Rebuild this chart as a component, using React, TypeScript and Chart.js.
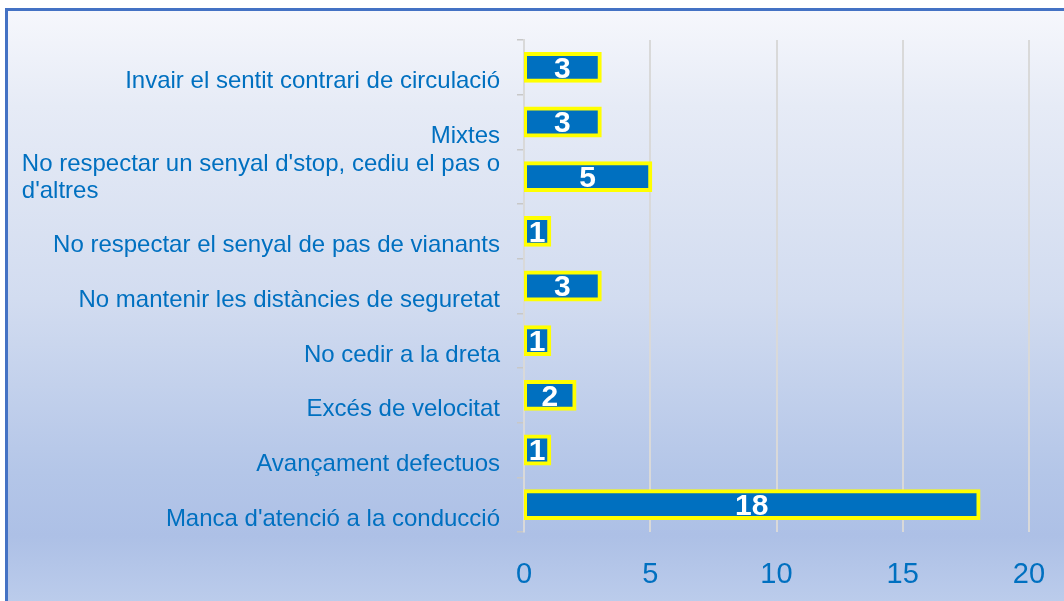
import React, { useEffect, useRef } from "react";
import { Chart, registerables } from "chart.js";

Chart.register(...registerables);

const categories: (string | string[])[] = [
  "Invair el sentit contrari de circulació",
  "Mixtes",
  ["No respectar un senyal d'stop, cediu el pas o", "d'altres"],
  "No respectar el senyal de pas de vianants",
  "No mantenir les distàncies de seguretat",
  "No cedir a la dreta",
  "Excés de velocitat",
  "Avançament defectuos",
  "Manca d'atenció a la conducció",
];
const values: number[] = [3, 3, 5, 1, 3, 1, 2, 1, 18];
const xTicks = { min: 0, max: 20, step: 5 };

const BLUE = "#0070C0";
const LABEL_FONT = "24px 'Liberation Sans', Arial, sans-serif";

const categoryLabelPlugin = {
  id: "categoryLabels",
  afterDraw(chart: any) {
    const ctx = chart.ctx;
    const yScale = chart.scales.y;
    const rightEdge = yScale.right - 24;
    ctx.save();
    ctx.font = LABEL_FONT;
    ctx.fillStyle = BLUE;
    ctx.textBaseline = "middle";
    ctx.textAlign = "left";
    categories.forEach((lab, i) => {
      const lines = Array.isArray(lab) ? lab : [lab];
      const cy = yScale.getPixelForValue(i);
      const maxW = Math.max(...lines.map((l) => ctx.measureText(l).width));
      const left = rightEdge - maxW;
      const lastY = cy + 14.5;
      lines.forEach((l, j) => {
        ctx.fillText(l, left, lastY - (lines.length - 1 - j) * 27);
      });
    });
    ctx.restore();
  },
};

const valueLabelPlugin = {
  id: "valueLabels",
  afterDatasetsDraw(chart: any) {
    const ctx = chart.ctx;
    const meta = chart.getDatasetMeta(0);
    ctx.save();
    ctx.font = "bold 30px 'Liberation Sans', Arial, sans-serif";
    ctx.fillStyle = "#FFFFFF";
    ctx.textAlign = "center";
    ctx.textBaseline = "middle";
    meta.data.forEach((bar: any, i: number) => {
      const cx = (bar.x + bar.base) / 2;
      ctx.fillText(String(values[i]), cx, bar.y + 2);
    });
    ctx.restore();
  },
};

export default function App() {
  const ref = useRef<HTMLCanvasElement>(null);
  useEffect(() => {
    if (!ref.current) return;
    const chart = new Chart(ref.current, {
      type: "bar",
      data: {
        labels: categories.map((c) => (Array.isArray(c) ? c.join(" ") : c)),
        datasets: [
          {
            data: values,
            backgroundColor: BLUE,
            borderColor: "#FFFF00",
            borderWidth: 4,
            borderSkipped: false,
            inflateAmount: 2,
            barPercentage: 0.49,
            categoryPercentage: 1,
          },
        ],
      },
      options: {
        indexAxis: "y",
        responsive: false,
        animation: false,
        layout: { padding: { top: 40, right: 35, left: 0, bottom: 0 } },
        plugins: { legend: { display: false }, tooltip: { enabled: false } },
        scales: {
          x: {
            min: xTicks.min,
            max: xTicks.max,
            ticks: {
              stepSize: xTicks.step,
              color: BLUE,
              font: { size: 29, family: "'Liberation Sans', Arial, sans-serif" },
              padding: 26,
            },
            grid: { color: "#D9D9D9", lineWidth: 2, drawTicks: false },
            border: { display: false },
            afterFit: (s: any) => {
              s.height = 69;
              s.paddingRight = 0;
              s.paddingLeft = 0;
            },
          },
          y: {
            ticks: { display: false },
            grid: {
              drawOnChartArea: false,
              drawTicks: true,
              tickLength: 7,
              color: "#C8C8C8",
              lineWidth: 1.5,
              offset: true,
            },
            border: { display: true, color: "#D9D9D9", width: 2 },
            afterFit: (s: any) => {
              s.width = 524;
              s.paddingTop = 0;
              s.paddingBottom = 0;
            },
          },
        },
      },
      plugins: [categoryLabelPlugin, valueLabelPlugin],
    });
    return () => chart.destroy();
  }, []);

  return (
    <div>
      <div
        style={{
          position: "absolute",
          left: 5,
          top: 8,
          width: 1100,
          height: 640,
          border: "3px solid #4472C4",
          background:
            "linear-gradient(to bottom, #F6F7FC 0%, #E6EBF6 15%, #D2DCF0 45%, #B4C6E8 72%, #ADC0E6 82%, #C6D5EF 100%)",
        }}
      />
      <canvas
        ref={ref}
        width={1064}
        height={601}
        style={{ position: "absolute", left: 0, top: 0, width: 1064, height: 601 }}
      />
    </div>
  );
}
